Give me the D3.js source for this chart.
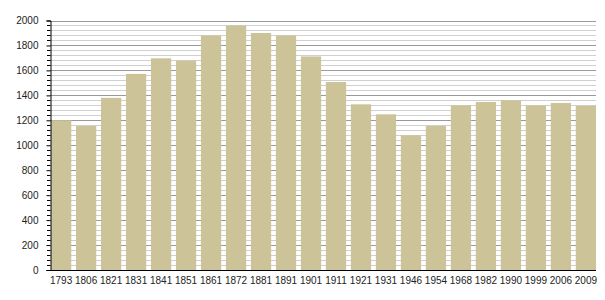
<!DOCTYPE html>
<html><head><meta charset="utf-8">
<script src="https://cdn.jsdelivr.net/npm/d3@7"></script>
<style>body{margin:0;background:#fff}svg{display:block}text{font-family:"Liberation Sans",Arial,sans-serif;font-size:10px;fill:#222}</style>
</head><body><svg id="c" width="605" height="300"></svg>
<script>
const years = ["1793","1806","1821","1831","1841","1851","1861","1872","1881","1891","1901","1911","1921","1931","1946","1954","1968","1982","1990","1999","2006","2009"];
const population = [1200,1155,1380,1572,1697,1678,1880,1960,1900,1880,1712,1507,1328,1248,1080,1155,1320,1347,1360,1320,1339,1316];
const yTicks = [0,200,400,600,800,1000,1200,1400,1600,1800,2000];
const minorStep = 40;

const svg = d3.select("#c");
const x = d3.scaleBand().domain(years).range([51, 596]).paddingInner(0.19).paddingOuter(0);
const y = d3.scaleLinear().domain([0, 2000]).range([270, 20.5]);
const minor = d3.range(0, 2001, minorStep);

// gridlines
svg.append("g").selectAll("line").data(minor.filter(v => v % 200 !== 0)).join("line")
  .attr("x1", 50).attr("x2", 596).attr("y1", d => Math.round(y(d)) + 0.5).attr("y2", d => Math.round(y(d)) + 0.5)
  .attr("stroke", "#d0d0d0").attr("stroke-width", 1);
svg.append("g").selectAll("line").data(yTicks.filter(v => v > 0)).join("line")
  .attr("x1", 50).attr("x2", 596).attr("y1", d => Math.round(y(d)) + 0.5).attr("y2", d => Math.round(y(d)) + 0.5)
  .attr("stroke", "#9a9a9a").attr("stroke-width", 1);

// bars
svg.append("g").selectAll("rect").data(years).join("rect")
  .attr("x", d => x(d)).attr("width", x.bandwidth())
  .attr("y", (d, i) => y(population[i])).attr("height", (d, i) => y(0) - y(population[i]))
  .attr("fill", "#ccc399");

// y axis
const ya = svg.append("g").attr("transform", "translate(50.5,0)")
  .call(d3.axisLeft(y).tickValues(yTicks).tickSize(4).tickPadding(8).tickFormat(d3.format("d")));
ya.select(".domain").attr("stroke", "#000");
ya.selectAll(".tick line").attr("stroke", "#000");
ya.selectAll(".tick text").style("font-size", "10px").attr("fill", "#222");
svg.append("g").selectAll("line").data(minor.filter(v => v % 200 !== 0)).join("line")
  .attr("x1", 47).attr("x2", 50.5).attr("y1", d => Math.round(y(d)) + 0.5).attr("y2", d => Math.round(y(d)) + 0.5)
  .attr("stroke", "#000");

// x axis
const xa = svg.append("g").attr("transform", "translate(0,270.5)")
  .call(d3.axisBottom(x).tickSize(0).tickPadding(6));
xa.select(".domain").attr("stroke", "#000").attr("d", "M50,0H596");
xa.selectAll(".tick text").style("font-size", "10px").attr("fill", "#222");
</script></body></html>
